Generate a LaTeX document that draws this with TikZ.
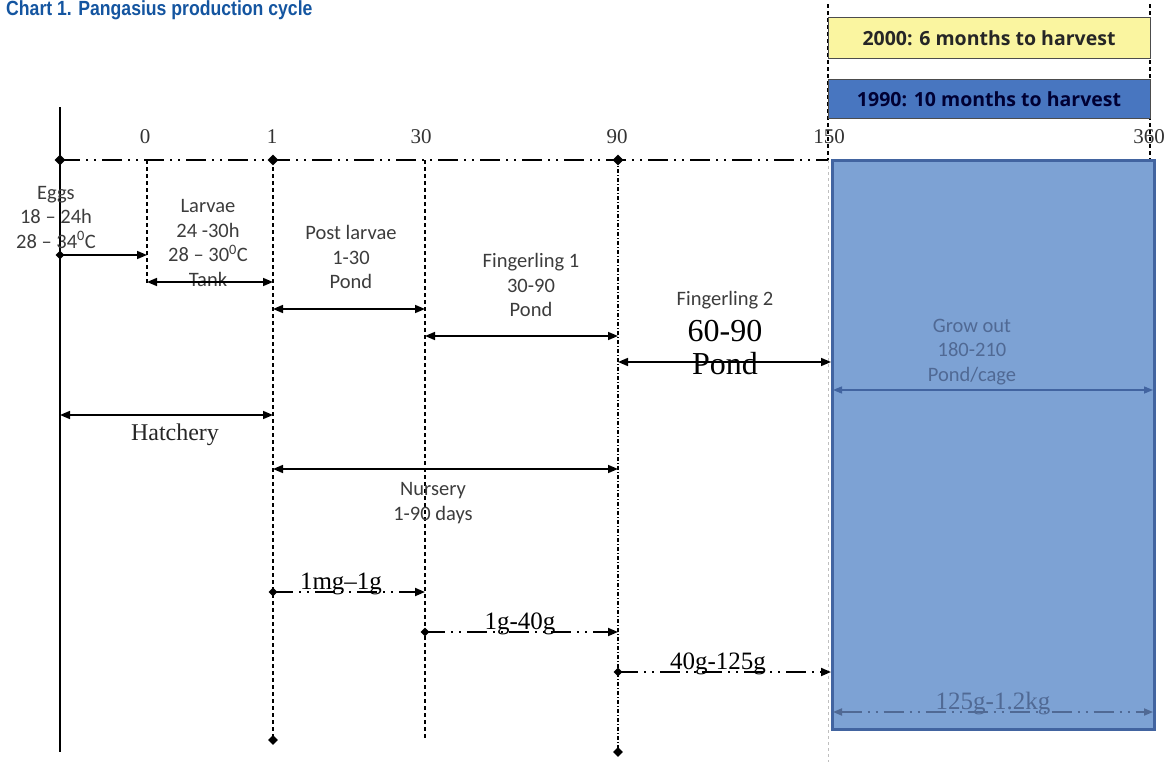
\documentclass[tikz,border=0pt]{standalone}
\usepackage{fontspec}
\setmainfont{Liberation Serif}
\newfontfamily\calib{Carlito}
\newfontfamily\opens{Open Sans}
\newfontfamily\titlef[FakeStretch=0.86]{Liberation Sans}
\usetikzlibrary{arrows.meta,shapes.geometric}
\definecolor{titleblue}{RGB}{20,85,160}
\definecolor{ybox}{RGB}{250,245,160}
\definecolor{bbox}{RGB}{72,118,192}
\definecolor{bigfill}{RGB}{125,162,212}
\definecolor{bigedge}{RGB}{66,100,160}
\definecolor{growtxt}{RGB}{80,105,148}
\definecolor{txtgrey}{RGB}{60,60,60}
\begin{document}
\begin{tikzpicture}[x=1pt,y=-1pt,
  dia/.style={diamond,fill=black,inner sep=0pt,minimum size=11pt},
  vdash/.style={line width=1.2pt,dash pattern=on 4pt off 3pt},
  barr/.style={line width=1.6pt,{Triangle[length=10pt,width=8pt]}-{Triangle[length=10pt,width=8pt]}},
  rarr/.style={line width=1.6pt,-{Triangle[length=10pt,width=8pt]}},
  ddot/.style={dash pattern=on 20pt off 6pt on 2pt off 6pt on 2pt off 6pt},
  lbl/.style={font=\calib\fontsize{20.5}{24.5}\selectfont,align=center,text=txtgrey,inner sep=0pt},
  axn/.style={font=\fontsize{21}{22}\selectfont,text=black!80,inner sep=0pt},
  wlbl/.style={font=\fontsize{25}{26}\selectfont,inner sep=0pt,anchor=base},
  hbox/.style={draw=black!70,line width=1pt,minimum width=322pt,inner sep=0pt}
]
\useasboundingbox (0,0) rectangle (1166,763);

% title
\node[anchor=west,inner sep=0pt,text=titleblue,font=\titlef\bfseries\fontsize{20.5}{22}\selectfont] (title) at (6,10) {Chart 1. Pangasius production cycle};

% coordinates of axis ticks
\coordinate (a0) at (60,160);
\coordinate (a1) at (147,160);
\coordinate (a2) at (273,160);
\coordinate (a3) at (425,160);
\coordinate (a4) at (618,160);
\coordinate (a5) at (828,160);
\coordinate (a6) at (1150,160);
\coordinate (topL) at (828,4);
\coordinate (topR) at (1150,4);

% vertical guides
\draw[line width=1.5pt] (60,107) coordinate (vtop) -- (60,752) coordinate (vbot);
\draw[vdash] (a1) -- (147,284) coordinate (e1);
\draw[vdash] (a2) -- (273,740) coordinate (e2);
\draw[vdash] (a3) -- (425,740) coordinate (e3);
\draw[line width=1.2pt,dash pattern=on 4pt off 2pt on 1pt off 2pt] (a4) -- (618,752) coordinate (e4);
\draw[vdash] (topL) -- (a5);
\draw[vdash] (topR) -- (a6);
\draw[black!25,line width=1pt,dash pattern=on 3pt off 3pt] (a5) -- (828,762) coordinate (e5);

% top boxes
\node[hbox,fill=ybox,minimum height=41pt,font=\opens\bfseries\fontsize{19.5}{22}\selectfont,text=black!85] (b2000) at (989,38) {2000: 6 months to harvest};
\node[hbox,fill=bbox,minimum height=39pt,font=\opens\bfseries\fontsize{19.5}{22}\selectfont,text=black!80!blue] (b1990) at (989,99) {1990: 10 months to harvest};

% axis
\draw[line width=2.4pt,ddot] (a0) -- (a5);

% axis numbers
\node[axn] (n0) at (145,137) {0};
\node[axn] (n1) at (272,137) {1};
\node[axn] (n30) at (421,137) {30};
\node[axn] (n90) at (617,137) {90};
\node[axn] (n150) at (829,137) {150};
\node[axn] (n360) at (1149,137) {360};

% big grow-out box
\node[draw=bigedge,fill=bigfill,line width=3pt,minimum width=322pt,minimum height=569pt,inner sep=0pt] (grow) at (993.5,445) {};

% diamonds on axis
\node[dia] (d0) at (a0) {};
\node[dia] (d1) at (a2) {};
\node[dia] (d2) at (a4) {};

% stage labels
\node[lbl] (eggs) at (56,217) {Eggs\\18 – 24h\\28 – 34\textsuperscript{0}C};
\node[lbl] (larvae) at (208,243) {Larvae\\24 -30h\\28 – 30\textsuperscript{0}C\\Tank};
\node[lbl] (post) at (351,257) {Post larvae\\1-30\\Pond};
\node[lbl] (fing1) at (531,285) {Fingerling 1\\30-90\\Pond};
\node[lbl] (fing2) at (725,300) {Fingerling 2};
\node[inner sep=0pt,font=\fontsize{32}{34}\selectfont] (f2days) at (725,331) {60-90};
\node[inner sep=0pt,font=\fontsize{32}{34}\selectfont] (f2pond) at (725,364) {Pond};
\node[lbl,text=growtxt] (growlbl) at (972,352) {Grow out\\180-210\\Pond/cage};
\node[inner sep=0pt,font=\fontsize{24}{26}\selectfont,text=black!85] (hatch) at (175,435) {Hatchery};
\node[lbl] (nurs) at (433,503) {Nursery\\1-90 days};

% stage arrows
\node[dia,minimum size=9pt] (eggs0) at (60,255) {};
\coordinate (eggs1) at (147,255);
\draw[rarr] (eggs0.center) -- (eggs1);
\coordinate (lar0) at (147,282); \coordinate (lar1) at (273,282);
\draw[barr] (lar0) -- (lar1);
\coordinate (pl0) at (273,309); \coordinate (pl1) at (425,309);
\draw[barr] (pl0) -- (pl1);
\coordinate (f10) at (425,336); \coordinate (f11) at (618,336);
\draw[barr] (f10) -- (f11);
\coordinate (f20) at (618,362); \coordinate (f21) at (831,362);
\draw[barr] (f20) -- (f21);
\coordinate (g0) at (833,390); \coordinate (g1) at (1153,390);
\draw[line width=1.4pt,draw=bigedge,{Triangle[length=9pt,width=7pt]}-{Triangle[length=9pt,width=7pt]}] (g0) -- (g1);
\coordinate (h0) at (60,415); \coordinate (h1) at (273,415);
\draw[barr] (h0) -- (h1);
\coordinate (nu0) at (273,469); \coordinate (nu1) at (618,469);
\draw[barr] (nu0) -- (nu1);

% weight arrows
\node[dia,minimum size=9pt] (w0) at (273,592) {};
\node[dia,minimum size=9pt] (w1) at (425,632) {};
\node[dia,minimum size=9pt] (w2) at (618,672) {};
\coordinate (w0e) at (425,592);
\coordinate (w1e) at (618,632);
\coordinate (w2e) at (831,672);
\draw[line width=1.8pt,ddot,-{Triangle[length=10pt,width=8pt]}] (w0.center) -- (w0e);
\draw[line width=1.8pt,ddot,-{Triangle[length=10pt,width=8pt]}] (w1.center) -- (w1e);
\draw[line width=1.8pt,ddot,-{Triangle[length=10pt,width=8pt]}] (w2.center) -- (w2e);
\coordinate (w3s) at (833,712); \coordinate (w3e) at (1153,712);
\draw[line width=1.8pt,draw=growtxt,ddot,{Triangle[length=9pt,width=7pt]}-{Triangle[length=9pt,width=7pt]}] (w3s) -- (w3e);

\node[wlbl] (wl0) at (341,589) {1mg–1g};
\node[wlbl] (wl1) at (520,629) {1g-40g};
\node[wlbl] (wl2) at (718,669) {40g-125g};
\node[wlbl,text=growtxt] (wl3) at (993,709) {125g-1.2kg};

% end diamonds
\node[dia,minimum size=10pt] (end1) at (e2) {};
\node[dia,minimum size=10pt] (end2) at (e4) {};
\end{tikzpicture}
\end{document}
